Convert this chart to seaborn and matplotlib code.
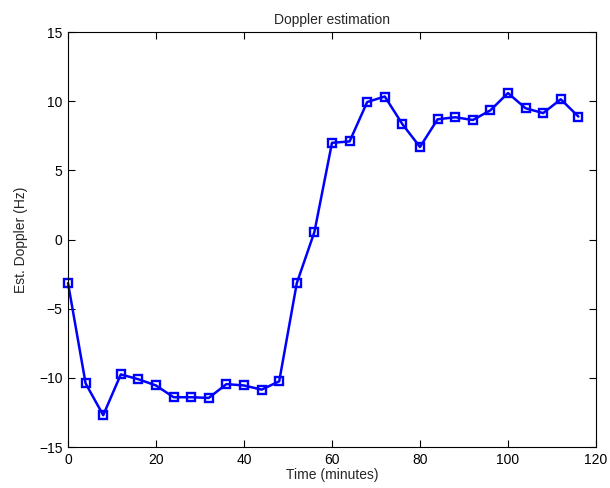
import matplotlib
matplotlib.use("Agg")
import matplotlib.pyplot as plt
import seaborn as sns
import pandas as pd

# Sample times (minutes) and estimated Doppler shift (Hz)
time_min = [0, 4, 8, 12, 16, 20, 24, 28, 32, 36, 40, 44, 48, 52, 56, 60,
            64, 68, 72, 76, 80, 84, 88, 92, 96, 100, 104, 108, 112, 116]
doppler_hz = [-3.15, -10.4, -12.7, -9.75, -10.1, -10.55, -11.4, -11.4, -11.45,
              -10.45, -10.55, -10.85, -10.25, -3.15, 0.55, 7.0, 7.1, 9.95,
              10.35, 8.35, 6.7, 8.7, 8.85, 8.65, 9.35, 10.6, 9.5, 9.15, 10.15, 8.9]

xticks = [0, 20, 40, 60, 80, 100, 120]
yticks = [-15, -10, -5, 0, 5, 10, 15]

df = pd.DataFrame({"t": time_min, "d": doppler_hz})

sns.set_style("ticks")
plt.rcParams["font.family"] = ["Liberation Sans", "DejaVu Sans"]

fig = plt.figure(figsize=(6.1, 4.88), dpi=100)
ax = fig.add_axes([0.1115, 0.084, 0.8655, 0.85])

sns.lineplot(data=df, x="t", y="d", ax=ax, color="#0000ff", linewidth=1.8,
             marker="s", markersize=5.5, markerfacecolor="none",
             markeredgecolor="#0000ff", markeredgewidth=1.7, clip_on=False)

ax.set_xlim(0, 120)
ax.set_ylim(-15, 15)
ax.set_xticks(xticks)
ax.set_yticks(yticks)
ax.set_yticklabels([str(v).replace("-", "\u2212") for v in yticks])
ax.tick_params(direction="in", length=5, width=0.8, labelsize=10,
               top=True, right=True, colors="black", pad=4)
for s in ax.spines.values():
    s.set_visible(True)
    s.set_linewidth(0.8)
    s.set_color("black")

ax.set_xlabel("Time (minutes)", fontsize=10, labelpad=1)
ax.set_ylabel("Est. Doppler (Hz)", fontsize=10, labelpad=8)
ax.set_title("Doppler estimation", fontsize=10, pad=6)

fig.savefig("out.png", dpi=100, facecolor="white")
